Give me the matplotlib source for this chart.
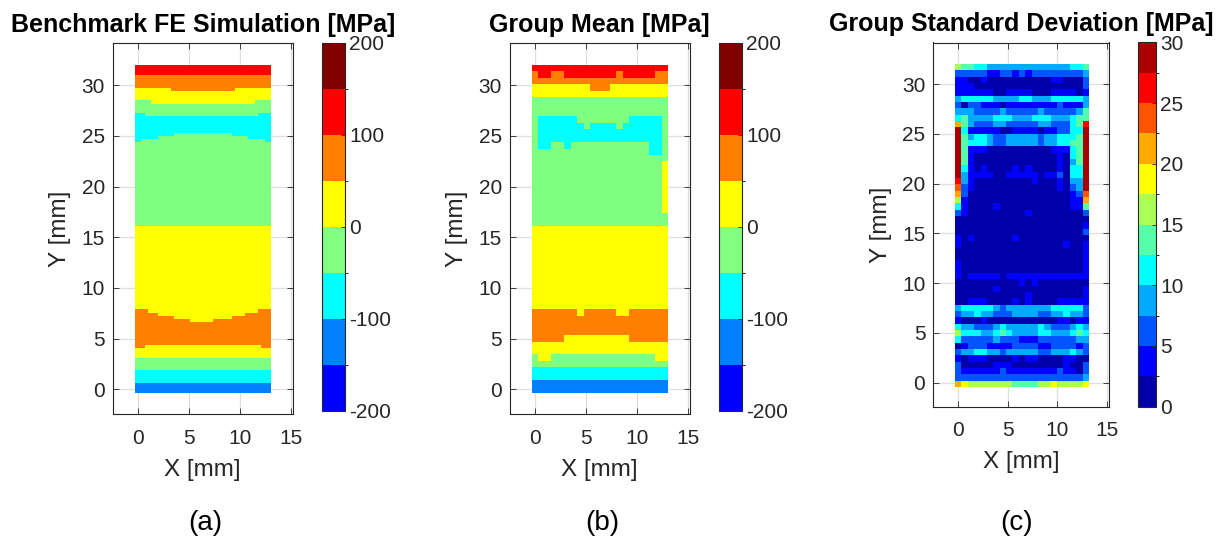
import numpy as np
import matplotlib.pyplot as plt
from matplotlib.colors import ListedColormap, BoundaryNorm

plt.rcParams['font.family'] = ['Liberation Sans', 'DejaVu Sans']
plt.rcParams['axes.unicode_minus'] = False

# colour band of every cell, rows from the top edge (Y max) down.
# a row is a list of tokens: "k*n" = band k repeated n times, or a literal run of bands
bench_rows = [
    (3, "6*42"),
    (4, "5*42"),
    (1, "4*11 5*20 4*11"),
    (3, "4*42"),
    (1, "3*5 4*32 3*5"),
    (3, "3*42"),
    (1, "2*3 3*35 2*4"),
    (5, "2*42"),
    (1, "2*12 3*18 2*12"),
    (1, "2*7 3*28 2*7"),
    (1, "2*2 3*38 2*2"),
    (26, "3*42"),
    (26, "4*42"),
    (1, "5*4 4*34 5*4"),
    (1, "5*7 4*27 5*8"),
    (1, "5*12 4*18 5*12"),
    (1, "5*17 4*7 5*18"),
    (7, "5*42"),
    (1, "5*3 4*36 5*3"),
    (3, "4*42"),
    (4, "3*42"),
    (4, "2*42"),
    (3, "1*42"),
]

mean_rows = [
    (1, "6*21"),
    (1, "566556666666656666655"),
    (1, "5*21"),
    (1, "444444444555444444444"),
    (1, "4*21"),
    (3, "3*21"),
    (1, "322222233333333222223"),
    (1, "322222223222232222223"),
    (2, "322222222222222222223"),
    (1, "322332333333333333223"),
    (1, "333333333333333333223"),
    (1, "3*21"),
    (8, "3*20 4"),
    (2, "3*21"),
    (13, "4*21"),
    (1, "555555545555544555555"),
    (3, "5*21"),
    (1, "555554444444444555555"),
    (2, "4*21"),
    (1, "344333333333333333344"),
    (1, "3*21"),
    (2, "2*21"),
    (2, "1*21"),
]

# bands in hex: 0..9, a, b
std_rows = [
    "655443333333333333445",
    "222221122121222222223",
    "110010000000000110002",
    "111000000000000000002",
    "111111001111000111101",
    "344444333344333444443",
    "202211101111111121113",
    "333222232222232222235",
    "453333444333444333455",
    "85322233222223322245a",
    "b4111110011110112244b",
    "b5344322333332334445b",
    "b5444322333332334455b",
    "b5111000000000011145b",
    "b5100000000000001045b",
    "b5100000000000001035b",
    "b4101000010100001044b",
    "b3111100111110112044b",
    "a3100000000010001033b",
    "92100000000000001023b",
    "820000000000000000129",
    "610000000000000000118",
    "410000100000000000115",
    "210000000001000000002",
    "000000000000000000000",
    "000000000000000000001",
    "000000000000000000002",
    "101000000100000000000",
    "100000000000000001001",
    "000000000000000000001",
    "000000000000000000001",
    "100000000000000000001",
    "100000000000000000001",
    "101111101111111111111",
    "000000000010100000000",
    "000000100000000000001",
    "000000000001000000001",
    "001110000101000011111",
    "344444323333333444442",
    "233433222333322334332",
    "100010000000000011011",
    "433222343333343222343",
    "644433454333344333454",
    "422222322211122222233",
    "012221111222211222212",
    "233443323333322333432",
    "101110000101100001100",
    "200000111000000001002",
    "211111121111111121102",
    "222222222222222222223",
    "876666666555566766667",
]

stress_levels = [-200, -150, -100, -50, 0, 50, 100, 150, 200]
stress_ticks = [-200, -100, 0, 100, 200]
std_levels = [0, 2.5, 5, 7.5, 10, 12.5, 15, 17.5, 20, 22.5, 25, 27.5, 30]
std_ticks = [0, 5, 10, 15, 20, 25, 30]

# specimen extent in mm [x0, x1, y0, y1]
mesh_extent_ab = [-0.33, 13.05, -0.33, 32.0]
mesh_extent_c = [-0.3, 13.1, -0.42, 32.05]

jet8 = [(0, 0, 1), (0, 0.5, 1), (0, 1, 1), (0.5, 1, 0.5),
        (1, 1, 0), (1, 0.5, 0), (1, 0, 0), (0.5, 0, 0)]
jet12 = [(0, 0, 2/3), (0, 0, 1), (0, 1/3, 1), (0, 2/3, 1), (0, 1, 1), (1/3, 1, 2/3),
         (2/3, 1, 1/3), (1, 1, 0), (1, 2/3, 0), (1, 1/3, 0), (1, 0, 0), (2/3, 0, 0)]


def decode(rows):
    grid = []
    for count, spec in rows:
        cells = []
        for tok in spec.split():
            if '*' in tok:
                k, n = tok.split('*')
                cells += [int(k, 16)] * int(n)
            else:
                cells += [int(ch, 16) for ch in tok]
        grid += [cells] * count
    return np.array(grid)


def to_values(bands, levels):
    lv = np.array(levels, dtype=float)
    mids = (lv[:-1] + lv[1:]) / 2
    return mids[bands]


W, H = 1225, 548


def rect(l, t, r, b):
    return [l / W, 1 - b / H, (r - l) / W, (b - t) / H]


fig = plt.figure(figsize=(W / 100, H / 100), dpi=100)
dark = '#262626'

panels = [
    dict(data=to_values(decode(bench_rows), stress_levels), levels=stress_levels, ticks=stress_ticks,
         colors=jet8, extent=mesh_extent_ab, title='Benchmark FE Simulation [MPa]',
         ax=rect(112.7, 42.7, 292.7, 414), cb=rect(321.5, 43, 345, 411),
         xlim=(-2.54, 15.19), ylim=(-2.44, 34.2), letter='(a)', lx=205),
    dict(data=to_values(decode(mean_rows), stress_levels), levels=stress_levels, ticks=stress_ticks,
         colors=jet8, extent=mesh_extent_ab, title='Group Mean [MPa]',
         ax=rect(509.7, 42.7, 689.7, 414), cb=rect(718.5, 43, 742, 411),
         xlim=(-2.54, 15.19), ylim=(-2.44, 34.2), letter='(b)', lx=602),
    dict(data=to_values(decode([(1, r) for r in std_rows]), std_levels), levels=std_levels, ticks=std_ticks,
         colors=jet12, extent=mesh_extent_c, title='Group Standard Deviation [MPa]',
         ax=rect(933, 42.5, 1109, 406.8), cb=rect(1138.3, 42.3, 1156, 406.7),
         xlim=(-2.52, 15.2), ylim=(-2.44, 34.2), letter='(c)', lx=1017),
]

for p in panels:
    ax = fig.add_axes(p['ax'])
    cmap = ListedColormap(p['colors'])
    norm = BoundaryNorm(p['levels'], cmap.N)
    im = ax.imshow(p['data'], extent=p['extent'], origin='upper', cmap=cmap, norm=norm,
                   interpolation='nearest', aspect='auto', zorder=1)
    ax.set_xlim(*p['xlim'])
    ax.set_ylim(*p['ylim'])
    ax.set_xticks([0, 5, 10, 15])
    ax.set_yticks([0, 5, 10, 15, 20, 25, 30])
    ax.set_axisbelow(True)
    ax.grid(True, color='#dfdfdf', linewidth=0.9)
    ax.tick_params(direction='in', length=4, width=0.6, color=dark, labelcolor=dark,
                   labelsize=15, top=True, right=True)
    ax.tick_params(axis='x', pad=10.5)
    ax.tick_params(axis='y', pad=5.5)
    for s in ax.spines.values():
        s.set_color(dark)
        s.set_linewidth(0.8)
    ax.set_title(p['title'], fontsize=18, fontweight='bold', color='black', pad=8)
    ax.set_xlabel('X [mm]', fontsize=17.5, color=dark, va='center')
    ax.set_ylabel('Y [mm]', fontsize=17.5, color=dark, va='center')
    ax.xaxis.set_label_coords(0.5, -0.152)
    ax.yaxis.set_label_coords(-0.295, 0.5)

    cax = fig.add_axes(p['cb'])
    cb = fig.colorbar(im, cax=cax, ticks=p['ticks'])
    cb.outline.set_linewidth(0.8)
    cb.outline.set_edgecolor(dark)
    cax.tick_params(direction='in', length=3, width=0.6, color=dark, labelcolor=dark,
                    labelsize=15, pad=3)
    cax.set_yticklabels([str(t) for t in p['ticks']])

    fig.text(p['lx'] / W, 1 - 523 / H, p['letter'], fontsize=20, color='black',
             ha='center', va='center')

fig.savefig('out.png', dpi=100)
